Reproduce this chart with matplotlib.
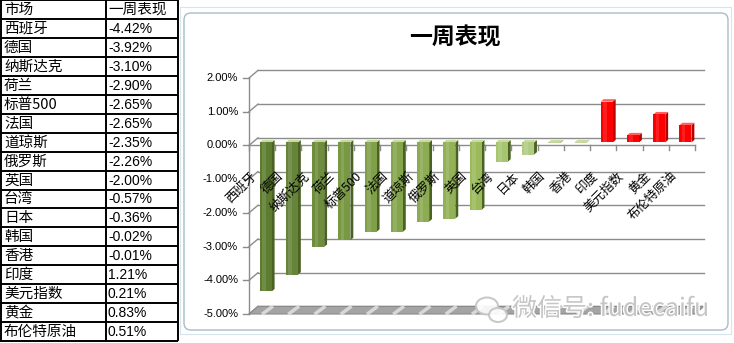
import matplotlib
matplotlib.use('Agg')
import matplotlib.pyplot as plt
from matplotlib.patches import FancyBboxPatch, Polygon, Ellipse, Rectangle
import matplotlib.patheffects as pe

plt.rcParams['font.family'] = ['Noto Sans CJK SC', 'DejaVu Sans']

markets = ['西班牙', '德国', '纳斯达克', '荷兰', '标普500', '法国', '道琼斯', '俄罗斯',
           '英国', '台湾', '日本', '韩国', '香港', '印度', '美元指数', '黄金', '布伦特原油']
weekly = [-4.42, -3.92, -3.10, -2.90, -2.65, -2.65, -2.35, -2.26,
          -2.00, -0.57, -0.36, -0.02, -0.01, 1.21, 0.21, 0.83, 0.51]
header = ['市场', '一周表现']
yticks = [2, 1, 0, -1, -2, -3, -4, -5]
chart_title = '一周表现'
watermark = '微信号: fudecaifu'

# bar colours: green shades for losers, red for gainers
greens = ['#5e7c30', '#66853a', '#6e8e3e', '#789844', '#7f9f48', '#85a54c', '#8cab52',
          '#93b258', '#9aba5c', '#a7c46e', '#b2cb82', '#bdd396', '#c3d79d']

W, H = 734, 343
fig = plt.figure(figsize=(W / 100, H / 100), dpi=100)

# background canvas in pixel coords (table, frame, title)
bg = fig.add_axes([0, 0, 1, 1], zorder=0)
bg.set_xlim(0, W)
bg.set_ylim(H, 0)
bg.axis('off')

row_h = 18.95
nrows = len(markets) + 1
for r in range(nrows + 1):
    bg.plot([0, 178], [r * row_h, r * row_h], color='black', lw=1.4, solid_capstyle='butt')
for xv in [1, 106, 178]:
    bg.plot([xv, xv], [0, nrows * row_h], color='black', lw=1.4, solid_capstyle='butt')

cells = [header] + [[m, '%.2f%%' % v] for m, v in zip(markets, weekly)]
for r, (name, val) in enumerate(cells):
    yc = r * row_h + row_h / 2 + 0.5
    bg.text(4, yc, name, ha='left', va='center', fontsize=10.5)
    if r == 0:
        bg.text(108, yc, val, ha='left', va='center', fontsize=10.5)
    else:
        bg.text(108, yc, val, ha='left', va='center', fontsize=10,
                family=['Liberation Sans', 'DejaVu Sans'])

# chart frame
bg.add_patch(Rectangle((180, 7), 551, 327, fc='none', ec='#d6e4ec', lw=0.8))
bg.add_patch(FancyBboxPatch((184, 13), 544, 317, boxstyle='round,pad=0,rounding_size=7',
                            fc='white', ec='#a9bccb', lw=1))
bg.text(455, 38, chart_title, ha='center', va='center', fontsize=16.5, fontweight='bold')

# plot area: front y axis at x=249px, 2% at y=78px, -5% at y=314px
ax = fig.add_axes([249 / W, (H - 314) / H, 446 / W, 236 / H], zorder=1)
ax.patch.set_alpha(0)
n = len(markets)
ax.set_xlim(0, n)
ax.set_ylim(-5, 2)
ax.axis('off')

ux = n / 446.0   # data units per pixel
uy = 7 / 236.0
dxd, dyd = 9 * ux, 7.6 * uy   # depth of the 3d box
grid_c = '#8c8c8c'

# back wall gridlines and left wall diagonals
for v in yticks:
    ax.plot([dxd, n + dxd], [v + dyd, v + dyd], color=grid_c, lw=1, zorder=1, clip_on=False)
    ax.plot([0, dxd], [v, v + dyd], color=grid_c, lw=1, zorder=1, clip_on=False)
    ax.plot([-6 * ux, 0], [v, v], color=grid_c, lw=1, zorder=1, clip_on=False)
    ax.text(-11 * ux, v, '%.2f%%' % v, ha='right', va='center', fontsize=8,
            family=['Liberation Sans', 'DejaVu Sans'])
ax.plot([0, 0], [-5, 2], color=grid_c, lw=1, zorder=1, clip_on=False)

# floor slab
ax.add_patch(Polygon([(0, -5), (n, -5), (n + dxd, -5 + dyd), (dxd, -5 + dyd)],
                     closed=True, fc='#a4a4a4', ec='#8a8a8a', lw=0.8, zorder=1, clip_on=False))
for i in range(n):
    ax.plot([i + 0.55, i + 0.55 + dxd * 0.9], [-5 + dyd * 0.1, -5 + dyd * 0.9],
            color='#e6e6e6', lw=2.5, alpha=0.8, zorder=1, clip_on=False)

# front category axis at 0
ax.plot([0, n], [0, 0], color=grid_c, lw=1, zorder=2, clip_on=False)
for i in range(n + 1):
    ax.plot([i, i], [0, -5 * uy], color=grid_c, lw=1, zorder=2, clip_on=False)

# 3d bars
bw = 12 * ux
f0, f1 = 0.40, 0.72
for i, v in enumerate(weekly):
    face = greens[i] if v < 0 else '#ff0000'
    side = '#4a6224' if v < 0 else '#b80000'
    topc = '#c9dba3' if v < 0 else '#ff6060'
    xl = i + 0.5 + f0 * dxd - bw / 2
    xr = xl + bw
    b0 = f0 * dyd
    ytop = max(b0, b0 + v)
    ybot = min(b0, b0 + v)
    sx, sy = (f1 - f0) * dxd, (f1 - f0) * dyd
    ax.add_patch(Polygon([(xr, ybot), (xr + sx, ybot + sy), (xr + sx, ytop + sy), (xr, ytop)],
                         closed=True, fc=side, ec='none', zorder=3))
    ax.add_patch(Polygon([(xl, ytop), (xl + sx, ytop + sy), (xr + sx, ytop + sy), (xr, ytop)],
                         closed=True, fc=topc, ec='none', zorder=3))
    ax.add_patch(Rectangle((xl, ybot), bw, ytop - ybot, fc=face, ec='none', zorder=4))
    ax.add_patch(Rectangle((xl + bw * 0.2, ybot), bw * 0.3, ytop - ybot, fc='white',
                           alpha=0.12, ec='none', zorder=4))

# rotated category labels
for i, name in enumerate(markets):
    ax.text(i + 0.5 - 12 * ux, -24 * uy, name, rotation=45, rotation_mode='anchor',
            ha='right', va='top', fontsize=9, zorder=5)

# watermark overlay
top = fig.add_axes([0, 0, 1, 1], zorder=5)
top.set_xlim(0, W)
top.set_ylim(H, 0)
top.axis('off')
top.add_patch(Ellipse((487, 306), 22, 17, fc='white', ec='#c4c4c4', lw=1.5, alpha=0.9))
top.add_patch(Ellipse((498, 315), 18, 14, fc='white', ec='#c4c4c4', lw=1.5, alpha=0.9))
top.text(512, 309, watermark, ha='left', va='center', fontsize=18, color='#c6c6c6',
         fontweight='light',
         path_effects=[pe.withStroke(linewidth=2, foreground='white')])

fig.savefig('out.png', dpi=100)
